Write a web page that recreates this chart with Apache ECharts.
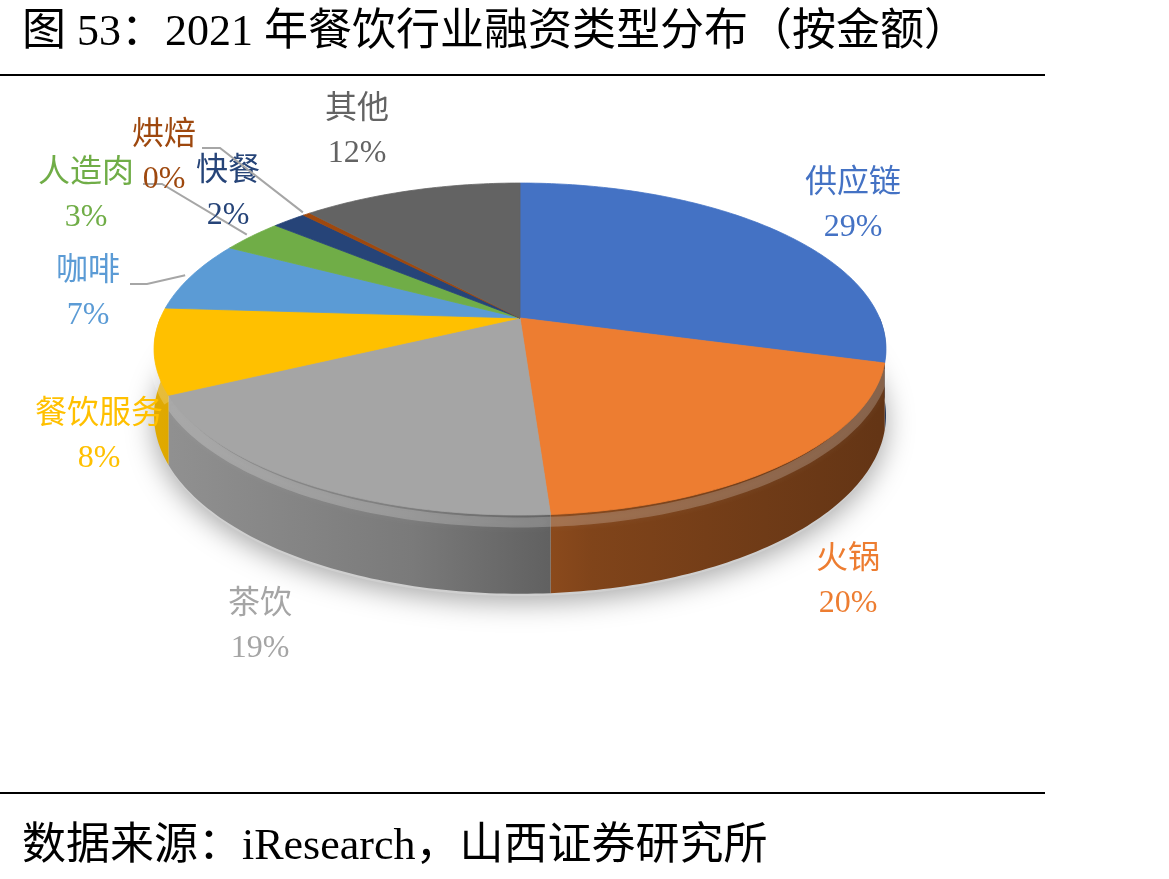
<!DOCTYPE html>
<html>
<head>
<meta charset="utf-8">
<title>2021年餐饮行业融资类型分布</title>
<script src="https://cdn.jsdelivr.net/npm/echarts@6/dist/echarts.min.js"></script>
<style>
  html, body { margin: 0; padding: 0; background: #fff; }
  #chart { width: 1169px; height: 879px; }
</style>
</head>
<body>
<div id="chart"></div>
<script>
// 数据（按金额占比，%）
const categories = ['供应链', '火锅', '茶饮', '餐饮服务', '咖啡', '人造肉', '快餐', '烘焙', '其他']
const shares = [29.3, 19.6, 18.8, 8.3, 6.9, 3.3, 1.8, 0.4, 11.6]

const titleText = '图 53：2021 年餐饮行业融资类型分布（按金额）'
const sourceText = '数据来源：iResearch，山西证券研究所'

// 样式
const colors = ['#4472C4', '#ED7D31', '#A5A5A5', '#FFC000', '#5B9BD5', '#70AD47', '#264478', '#9E480E', '#636363']
// 标签中心位置（两行文字的中点）
const labelCenter = [[853, 206], [848, 582], [260, 627], [99, 437], [88, 294], [86, 196], [228, 194], [164, 158], [357, 132]]
// 引导线起点和拐点
const leaders = { 4: [[130, 284], [147, 284]], 5: [[143, 184], [162, 184]], 7: [[202, 148], [220, 148]] }

// 透视椭圆参数
const CX = 520
const CY = 318
const A = 359.5
const B = 160.2
const K = 0.187
const DEPTH = 64
const TWO_PI = Math.PI * 2

const total = shares.reduce((s, v) => s + v, 0)
const starts = []
let acc = 0
shares.forEach(v => { starts.push(acc / total * TWO_PI); acc += v })

function proj (t, f, d) {
  const u = f * Math.sin(t)
  const v = -f * Math.cos(t)
  const w = 1 - K * v
  return [CX + A * u / w, CY + B * v / w + (d || 0) / w]
}

function arc (t0, t1, f, d) {
  const pts = []
  const n = Math.max(2, Math.ceil((t1 - t0) / (Math.PI / 180)))
  for (let i = 0; i <= n; i++) {
    pts.push(proj(t0 + (t1 - t0) * i / n, f, d))
  }
  return pts
}

function shade (hex, k) {
  const n = parseInt(hex.slice(1), 16)
  const r = Math.round(((n >> 16) & 255) * k)
  const g = Math.round(((n >> 8) & 255) * k)
  const b = Math.round((n & 255) * k)
  return 'rgb(' + r + ',' + g + ',' + b + ')'
}

function sideFill (hex) {
  return new echarts.graphic.LinearGradient(CX - A, 0, CX + A, 0, [
    { offset: 0, color: shade(hex, 0.88) },
    { offset: 0.35, color: shade(hex, 0.74) },
    { offset: 0.6, color: shade(hex, 0.54) },
    { offset: 1, color: shade(hex, 0.42) }
  ], true)
}

function sliceRange (i) {
  const a0 = starts[i]
  return [a0, a0 + shares[i] / total * TWO_PI]
}

// 侧面
function renderSide (params, api) {
  const i = params.dataIndex
  const r = sliceRange(i)
  const children = []
  if (i === 0) {
    children.push({
      type: 'polygon',
      shape: { points: arc(0, TWO_PI, 1, DEPTH + 2) },
      style: { fill: '#cfcfcf', shadowBlur: 28, shadowColor: 'rgba(0,0,0,0.35)', shadowOffsetY: 6 }
    })
  }
  const lo = Math.max(r[0], Math.PI / 2)
  const hi = Math.min(r[1], Math.PI * 1.5)
  if (hi > lo) {
    const top = arc(lo, hi, 1, -1)
    const bot = arc(lo, hi, 1, DEPTH).reverse()
    children.push({
      type: 'polygon',
      shape: { points: top.concat(bot) },
      style: { fill: sideFill(colors[i]) }
    })
    // 侧面上沿的圆角高光
    children.push({
      type: 'polyline',
      shape: { points: arc(lo, hi, 1, 6) },
      style: { fill: null, stroke: 'rgba(255,255,255,0.2)', lineWidth: 10, shadowBlur: 8, shadowColor: 'rgba(255,255,255,0.3)' }
    })
  }
  return { type: 'group', children }
}

// 顶面
function renderTop (params, api) {
  const i = params.dataIndex
  const r = sliceRange(i)
  const pts = [[CX, CY]].concat(arc(r[0], r[1], 1, 0))
  return {
    type: 'polygon',
    shape: { points: pts },
    style: { fill: colors[i], stroke: colors[i], lineWidth: 0.8 }
  }
}

// 标签
function renderLabel (params, api) {
  const i = params.dataIndex
  const r = sliceRange(i)
  const pct = Math.round(api.value(0) / total * 100)
  const c = labelCenter[i]
  const children = [{
    type: 'text',
    x: c[0],
    y: c[1],
    style: {
      text: categories[i] + '\n' + pct + '%',
      fill: colors[i],
      fontSize: 32,
      fontFamily: '"Liberation Serif", "Noto Sans CJK SC"',
      align: 'center',
      verticalAlign: 'middle',
      lineHeight: 44
    }
  }]
  if (leaders[i]) {
    const end = proj((r[0] + r[1]) / 2, 1.02, 0)
    children.push({
      type: 'polyline',
      shape: { points: leaders[i].concat([end]) },
      style: { fill: null, stroke: '#A6A6A6', lineWidth: 2 }
    })
  }
  return { type: 'group', children }
}

const myChart = echarts.init(document.getElementById('chart'), null, { renderer: 'canvas' })
const option = {
  animation: false,
  backgroundColor: '#fff',
  graphic: [
    {
      type: 'text',
      x: 22,
      y: 33,
      style: { text: titleText, fill: '#000', font: '44px "Liberation Serif", "Noto Sans CJK SC"', verticalAlign: 'middle' }
    },
    { type: 'line', shape: { x1: 0, y1: 75, x2: 1045, y2: 75 }, style: { stroke: '#000', lineWidth: 2 } },
    { type: 'line', shape: { x1: 0, y1: 793, x2: 1045, y2: 793 }, style: { stroke: '#000', lineWidth: 2 } },
    {
      type: 'text',
      x: 22,
      y: 847,
      style: { text: sourceText, fill: '#000', font: '44px "Liberation Serif", "Noto Sans CJK SC"', verticalAlign: 'middle' }
    }
  ],
  series: [
    { type: 'custom', coordinateSystem: 'none', z: 1, renderItem: renderSide, data: shares },
    { type: 'custom', coordinateSystem: 'none', z: 2, renderItem: renderTop, data: shares },
    { type: 'custom', coordinateSystem: 'none', z: 3, renderItem: renderLabel, data: shares }
  ]
}
myChart.setOption(option)
</script>
</body>
</html>
